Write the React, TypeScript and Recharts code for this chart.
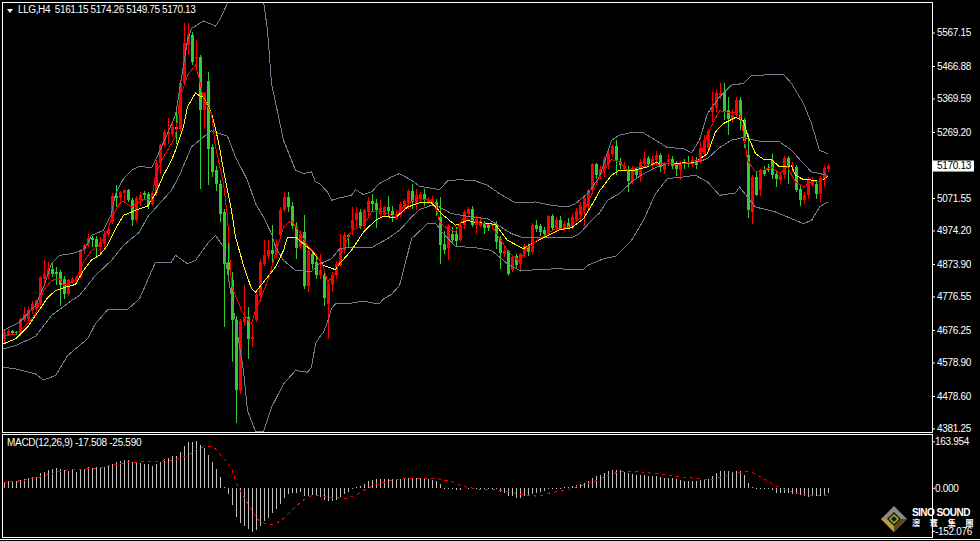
import { Bar, ComposedChart, Line, XAxis, YAxis } from "recharts"

// MT4 chart: LLG,H4 with Bollinger bands, two moving averages and MACD.
// One row per 4h bar.
const opens = [
  4651, 4664, 4676, 4672, 4666, 4706, 4711, 4736, 4741, 4758, 4831, 4841, 4861, 4851, 4851, 4831, 4784, 4821, 4824, 4836,
  4916, 4936, 4954, 4951, 4926, 4936, 4964, 5001, 5078, 5074, 5088, 5096, 5068, 5008, 5066, 5088, 5084, 5054, 5088, 5178,
  5231, 5266, 5266, 5286, 5281, 5416, 5531, 5561, 5494, 5496, 5336, 5423, 5226, 5156, 5116, 5031, 4881, 4826, 4706, 4496,
  4701, 4716, 4651, 4706, 4778, 4876, 4898, 4916, 4906, 4961, 5038, 5076, 5048, 4986, 4926, 4971, 4808, 4906, 4881, 4841,
  4841, 4756, 4811, 4841, 4871, 4916, 4961, 4981, 5006, 5031, 4988, 5031, 5063, 5058, 5026, 5021, 5046, 5034, 5011, 5021,
  5044, 5058, 5094, 5056, 5071, 5086, 5061, 5061, 5061, 5016, 4934, 4924, 4966, 4966, 4946, 4991, 5026, 5041, 4991, 4988,
  4994, 4991, 4988, 4996, 4951, 4906, 4913, 4858, 4898, 4874, 4904, 4928, 4911, 4991, 4988, 4976, 4966, 5018, 4981, 5006,
  4981, 4998, 4984, 5006, 5021, 5036, 5048, 5098, 5174, 5141, 5156, 5176, 5204, 5228, 5181, 5161, 5161, 5124, 5156, 5138,
  5176, 5194, 5174, 5186, 5201, 5158, 5181, 5191, 5176, 5158, 5181, 5181, 5176, 5186, 5181, 5206, 5224, 5331, 5341, 5381,
  5391, 5336, 5311, 5321, 5366, 5306, 5201, 5031, 5136, 5098, 5156, 5161, 5188, 5144, 5128, 5141, 5193, 5166, 5166, 5099,
  5068, 5081, 5111, 5114, 5086, 5126, 5161.15,
]
const highs = [
  4680, 4680, 4678, 4676, 4715, 4745, 4745, 4765, 4770, 4840, 4886, 4880, 4880, 4866, 4856, 4840, 4830, 4836, 4840, 4920,
  4935, 4964, 4960, 4960, 4955, 4975, 4990, 5088, 5111, 5095, 5098, 5100, 5072, 5080, 5090, 5095, 5090, 5092, 5186, 5236,
  5276, 5314, 5300, 5330, 5426, 5596, 5596, 5570, 5546, 5500, 5390, 5451, 5236, 5170, 5126, 5040, 4946, 4850, 4720, 4710,
  4811, 4746, 4696, 4790, 4891, 4946, 4946, 4991, 4950, 5046, 5091, 5091, 5060, 5000, 4975, 5021, 4925, 4915, 4900, 4905,
  4850, 4825, 4850, 4885, 4965, 4970, 4965, 5046, 5046, 5040, 5040, 5075, 5086, 5070, 5066, 5050, 5078, 5050, 5036, 5062,
  5070, 5100, 5116, 5100, 5090, 5100, 5075, 5080, 5070, 5075, 4975, 4995, 4985, 4985, 5000, 5036, 5045, 5050, 5020, 5012,
  5005, 4998, 4998, 5005, 4960, 4925, 4918, 4900, 4905, 4908, 4935, 4935, 4998, 5008, 4995, 4985, 5022, 5024, 5015, 5020,
  5005, 5012, 5025, 5042, 5060, 5080, 5100, 5178, 5178, 5170, 5200, 5215, 5232, 5248, 5192, 5180, 5170, 5170, 5165, 5190,
  5210, 5200, 5200, 5215, 5208, 5180, 5205, 5198, 5185, 5185, 5190, 5200, 5200, 5195, 5240, 5262, 5280, 5391, 5396, 5416,
  5416, 5376, 5340, 5376, 5375, 5312, 5266, 5142, 5150, 5160, 5170, 5175, 5204, 5155, 5150, 5198, 5198, 5180, 5172, 5110,
  5090, 5135, 5135, 5125, 5140, 5170, 5174.26,
]
const lows = [
  4640, 4660, 4664, 4664, 4660, 4700, 4705, 4725, 4735, 4750, 4815, 4830, 4835, 4811, 4750, 4770, 4780, 4815, 4815, 4830,
  4905, 4925, 4925, 4895, 4905, 4925, 4955, 4995, 5046, 5065, 5061, 5060, 4989, 5000, 5050, 5070, 5040, 5048, 5080, 5146,
  5225, 5236, 5255, 5236, 5270, 5410, 5500, 5471, 5461, 5101, 5280, 5111, 5136, 5095, 5000, 4686, 4830, 4581, 4398, 4486,
  4690, 4591, 4628, 4700, 4760, 4870, 4890, 4880, 4895, 4950, 5030, 5030, 4980, 4890, 4920, 4800, 4790, 4860, 4830, 4830,
  4750, 4652, 4790, 4830, 4865, 4905, 4925, 4961, 4985, 4980, 4980, 5020, 5030, 4982, 5016, 5016, 5020, 5000, 5006, 5015,
  5030, 5040, 5041, 5036, 5060, 5050, 5055, 5055, 5020, 4876, 4905, 4886, 4936, 4930, 4940, 4980, 5015, 4985, 4966, 4985,
  4965, 4975, 4980, 4920, 4860, 4895, 4839, 4850, 4860, 4852, 4895, 4900, 4905, 4970, 4960, 4955, 4960, 4975, 4975, 4978,
  4975, 4980, 4980, 5000, 5010, 4988, 5040, 5090, 5130, 5130, 5136, 5160, 5195, 5142, 5160, 5155, 5092, 5114, 5130, 5122,
  5166, 5165, 5160, 5170, 5150, 5145, 5170, 5160, 5140, 5126, 5160, 5165, 5165, 5160, 5175, 5195, 5215, 5301, 5330, 5370,
  5306, 5261, 5300, 5315, 5276, 5222, 5014, 4996, 5080, 5080, 5140, 5150, 5130, 5106, 5115, 5130, 5116, 5150, 5090, 5050,
  5055, 5070, 5105, 5070, 5061, 5105, 5149.75,
]
const closes = [
  4671, 4676, 4668, 4668, 4711, 4726, 4736, 4756, 4766, 4836, 4846, 4861, 4844, 4846, 4811, 4786, 4826, 4831, 4836, 4916,
  4931, 4954, 4948, 4926, 4941, 4966, 4981, 5078, 5074, 5090, 5096, 5066, 5006, 5074, 5081, 5081, 5051, 5088, 5178, 5231,
  5271, 5271, 5286, 5281, 5416, 5536, 5561, 5481, 5496, 5336, 5386, 5221, 5151, 5116, 5026, 4876, 4856, 4706, 4498, 4703,
  4716, 4651, 4658, 4781, 4881, 4901, 4916, 4904, 4936, 5038, 5076, 5046, 4988, 4924, 4966, 4808, 4918, 4876, 4841, 4858,
  4774, 4814, 4843, 4876, 4919, 4961, 4956, 5006, 5029, 4986, 5036, 5063, 5054, 5036, 5044, 5046, 5034, 5021, 5026, 5056,
  5064, 5094, 5061, 5081, 5084, 5068, 5068, 5071, 5041, 4931, 4918, 4988, 4946, 4944, 4991, 5031, 5041, 4991, 5011, 5004,
  4984, 4984, 4994, 4941, 4908, 4913, 4844, 4896, 4871, 4904, 4928, 4911, 4991, 4981, 4971, 4964, 5018, 4984, 5008, 4984,
  4996, 4984, 5016, 5033, 5051, 5073, 5096, 5174, 5141, 5161, 5191, 5206, 5228, 5188, 5171, 5171, 5124, 5164, 5141, 5181,
  5194, 5174, 5191, 5201, 5166, 5171, 5191, 5168, 5161, 5178, 5176, 5176, 5186, 5171, 5224, 5246, 5274, 5344, 5388, 5388,
  5331, 5311, 5321, 5366, 5306, 5243, 5036, 5136, 5083, 5156, 5146, 5156, 5141, 5131, 5141, 5193, 5166, 5171, 5096, 5066,
  5081, 5128, 5128, 5086, 5134, 5164, 5170.13,
]

// Indicator curves as [bar, price] readings
const bbUpper = [
  [0, 4676], [4, 4701], [8, 4751], [10, 4806], [12, 4876], [14, 4901], [17, 4906], [20, 4918], [21, 4936], [22, 4961],
  [25, 4976], [27, 5026], [28, 5086], [30, 5131], [32, 5156], [34, 5168], [37, 5163], [38, 5186], [41, 5266], [43, 5321],
  [45, 5470], [46, 5546], [47, 5581], [50, 5603], [53, 5588], [54, 5606], [56, 5656], [57, 5690], [60, 5780], [63, 5760],
  [65, 5661], [66, 5576], [67, 5416], [70, 5246], [73, 5156], [75, 5146], [77, 5151], [78, 5121], [79, 5116], [81, 5091],
  [82, 5066], [84, 5073], [87, 5081], [88, 5098], [90, 5083], [92, 5091], [94, 5116], [97, 5136], [99, 5146], [102, 5126],
  [104, 5108], [109, 5098], [111, 5124], [114, 5128], [118, 5124], [121, 5111], [124, 5086], [128, 5058], [133, 5061],
  [137, 5051], [141, 5046], [143, 5056], [146, 5086], [149, 5136], [152, 5246], [154, 5261], [157, 5269], [160, 5268],
  [163, 5246], [166, 5224], [170, 5221], [172, 5208], [174, 5246], [176, 5326], [179, 5376], [182, 5411], [185, 5416],
  [187, 5439], [191, 5442], [195, 5443], [197, 5416], [200, 5356], [202, 5296], [204, 5216], [206, 5206],
]
const bbMiddle = [
  [0, 4621], [3, 4631], [8, 4658], [12, 4721], [17, 4766], [19, 4781], [23, 4841], [27, 4886], [30, 4931], [34, 4971],
  [36, 5016], [42, 5096], [44, 5141], [47, 5226], [50, 5256], [52, 5274], [56, 5258], [58, 5196], [61, 5126], [63, 5056],
  [65, 5016], [67, 4966], [68, 4926], [70, 4886], [73, 4856], [77, 4853], [79, 4876], [82, 4891], [83, 4906], [84, 4921],
  [87, 4926], [92, 4924], [96, 4951], [99, 4976], [102, 5016], [104, 5038], [107, 5051], [109, 5046], [112, 5026],
  [117, 5016], [121, 5011], [123, 4996], [127, 4966], [130, 4954], [136, 4956], [142, 4954], [144, 4966], [147, 5006],
  [149, 5028], [151, 5066], [154, 5086], [157, 5121], [160, 5146], [163, 5164], [166, 5176], [173, 5178], [176, 5191],
  [179, 5224], [182, 5246], [185, 5254], [189, 5243], [194, 5241], [197, 5216], [200, 5176], [202, 5151], [206, 5141],
]
const bbLower = [
  [0, 4566], [3, 4561], [8, 4546], [10, 4528], [13, 4541], [16, 4601], [19, 4631], [21, 4651], [23, 4696], [26, 4738],
  [31, 4739], [34, 4771], [36, 4826], [38, 4881], [42, 4881], [43, 4901], [46, 4876], [48, 4886], [51, 4936], [53, 4961],
  [55, 4926], [57, 4776], [60, 4556], [61, 4436], [63, 4374], [65, 4374], [67, 4446], [70, 4516], [73, 4556], [76, 4551],
  [77, 4566], [78, 4636], [79, 4656], [80, 4671], [81, 4701], [82, 4741], [83, 4756], [85, 4756], [87, 4758], [90, 4764],
  [92, 4759], [94, 4756], [95, 4771], [97, 4784], [99, 4811], [100, 4856], [102, 4951], [106, 4996], [108, 4998],
  [110, 4966], [113, 4928], [118, 4924], [122, 4916], [126, 4876], [129, 4856], [134, 4858], [138, 4861], [145, 4858],
  [146, 4871], [150, 4891], [153, 4898], [157, 4946], [160, 5006], [163, 5086], [166, 5131], [170, 5136], [173, 5141],
  [176, 5121], [179, 5081], [183, 5088], [184, 5106], [186, 5076], [188, 5046], [193, 5031], [197, 5011], [200, 4996],
  [202, 5006], [204, 5046], [206, 5061],
]
const maSlow = [
  [0, 4636], [3, 4651], [6, 4686], [8, 4721], [11, 4774], [13, 4796], [15, 4804], [18, 4814], [20, 4856], [22, 4888],
  [24, 4901], [26, 4931], [28, 4981], [30, 5021], [31, 5026], [33, 5036], [36, 5048], [38, 5086], [40, 5141], [42, 5186],
  [43, 5216], [45, 5286], [46, 5346], [48, 5388], [49, 5379], [50, 5376], [52, 5326], [53, 5281], [54, 5226], [55, 5156],
  [57, 5036], [58, 4956], [60, 4871], [62, 4801], [63, 4791], [65, 4821], [68, 4866], [70, 4916], [71, 4956], [73, 4956],
  [75, 4936], [77, 4916], [79, 4886], [80, 4871], [83, 4858], [84, 4876], [87, 4916], [90, 4971], [93, 5006], [95, 5018],
  [98, 5014], [101, 5046], [104, 5058], [107, 5058], [110, 5021], [113, 4991], [116, 5006], [118, 5000], [123, 4994],
  [126, 4946], [130, 4921], [132, 4936], [135, 4954], [139, 4978], [142, 4984], [145, 5011], [148, 5071], [149, 5094],
  [152, 5141], [154, 5156], [157, 5154], [161, 5166], [163, 5178], [168, 5176], [173, 5181], [176, 5206], [178, 5271],
  [180, 5296], [183, 5314], [185, 5304], [186, 5261], [188, 5206], [190, 5189], [192, 5188], [194, 5166], [197, 5169],
  [198, 5141], [200, 5128], [203, 5126], [204, 5121], [206, 5138],
]
const maFast = [
  [0, 4661], [3, 4664], [6, 4696], [8, 4726], [10, 4796], [12, 4826], [14, 4831], [15, 4811], [18, 4826], [20, 4881],
  [22, 4916], [24, 4931], [26, 4976], [27, 5011], [29, 5056], [30, 5063], [32, 5046], [35, 5069], [37, 5066], [38, 5141],
  [40, 5196], [42, 5236], [43, 5256], [44, 5366], [46, 5441], [48, 5471], [49, 5426], [50, 5371], [52, 5326], [53, 5226],
  [55, 5116], [56, 5016], [57, 4811], [59, 4751], [60, 4726], [62, 4696], [63, 4736], [66, 4821], [68, 4906], [70, 4986],
  [72, 5006], [74, 4971], [76, 4931], [78, 4906], [80, 4866], [81, 4821], [83, 4846], [85, 4926], [87, 4976], [90, 4991],
  [92, 5031], [95, 5031], [98, 5016], [100, 5046], [103, 5071], [106, 5069], [108, 5056], [109, 5001], [111, 4981],
  [113, 4971], [115, 5016], [118, 5001], [122, 4991], [123, 4971], [126, 4916], [129, 4881], [131, 4926], [134, 4951],
  [138, 4981], [141, 4984], [144, 5011], [146, 5056], [149, 5136], [152, 5188], [154, 5181], [156, 5156], [159, 5166],
  [162, 5171], [165, 5176], [169, 5174], [174, 5186], [176, 5266], [179, 5334], [182, 5328], [184, 5331], [185, 5266],
  [186, 5186], [188, 5151], [190, 5156], [192, 5166], [194, 5146], [196, 5166], [198, 5121], [200, 5106], [202, 5121],
  [204, 5121], [206, 5141],
]

const macdHist = [
  21, 26, 26, 27, 30, 32, 35, 40, 41, 53, 59, 65, 67, 71, 67, 63, 61, 63, 59, 65,
  67, 76, 73, 74, 74, 76, 80, 85, 92, 97, 100, 100, 92, 89, 89, 86, 85, 80, 86, 92,
  104, 106, 113, 113, 127, 148, 163, 164, 168, 153, 142, 118, 94, 68, 40, 6, -20, -59, -100, -122,
  -133, -145, -153, -148, -133, -116, -106, -86, -74, -55, -35, -21, -17, -17, -14, -27, -27, -25, -28, -31,
  -41, -45, -45, -40, -32, -20, -12, -1, 5, 9, 15, 26, 30, 33, 33, 33, 32, 33, 33, 33,
  35, 35, 38, 38, 38, 38, 34, 30, 26, 15, 1, 1, 1, -5, -5, 0, 1, 2, -1, 1,
  -1, -1, -1, -2, -12, -15, -26, -29, -34, -33, -29, -26, -20, -15, -12, -8, -1, 1, 1, 1,
  5, 5, 8, 12, 15, 19, 26, 35, 44, 46, 54, 61, 65, 65, 65, 59, 55, 51, 47, 47,
  47, 44, 44, 44, 40, 38, 35, 35, 33, 30, 26, 26, 26, 26, 28, 30, 33, 44, 53, 61,
  61, 61, 59, 61, 61, 47, 19, 5, 1, -2, -2, -2, -5, -18, -17, -15, -18, -20, -21, -24,
  -27, -30, -28, -27, -27, -27, -17.5,
]
const macdSignal = [
  [0, 21], [3, 24], [8, 35], [12, 53], [16, 65], [20, 68], [24, 71], [28, 85], [32, 92], [37, 94], [41, 97], [44, 104],
  [47, 124], [49, 144], [52, 149], [53, 139], [55, 106], [57, 71], [58, 24], [60, -30], [62, -77], [64, -118], [66, -127],
  [68, -127], [70, -106], [73, -65], [75, -41], [77, -27], [80, -27], [82, -32], [86, -35], [88, -26], [90, -8], [92, 6],
  [95, 21], [98, 32], [102, 35], [108, 35], [112, 24], [115, 6], [119, -4], [123, -4], [126, -12], [131, -26], [134, -28],
  [136, -18], [140, -8], [143, 4], [147, 20], [150, 38], [154, 59], [158, 60], [164, 50], [169, 40], [173, 35], [177, 30],
  [181, 47], [185, 59], [187, 57], [190, 35], [193, 8], [197, -12], [201, -24], [206, -25.59],
]

const priceTicks = [5567.15, 5466.88, 5369.59, 5269.2, 5170.13, 5071.55, 4974.2, 4873.9, 4776.55, 4676.25, 4578.9, 4478.6, 4381.25]
const macdTicks = [163.954, 0, -152.076]
const lastPrice = 5170.13
const title = "LLG,H4  5161.15 5174.26 5149.75 5170.13"
const macdTitle = "MACD(12,26,9) -17.508 -25.590"

const TOTAL_SLOTS = 233 // chart is scrolled, empty room right of the last bar
const FONT = '"Liberation Sans", Arial, sans-serif'

const pick = (pairs: number[][], bar: number) => pairs.find((p) => p[0] === bar)?.[1]

const rows = Array.from({ length: TOTAL_SLOTS }, (_, bar) => ({
  bar,
  open: opens[bar],
  high: highs[bar],
  low: lows[bar],
  close: closes[bar],
  upper: pick(bbUpper, bar),
  middle: pick(bbMiddle, bar),
  lower: pick(bbLower, bar),
  slow: pick(maSlow, bar),
  fast: pick(maFast, bar),
  hist: macdHist[bar],
  signal: pick(macdSignal, bar),
}))

function Candle(props: any) {
  const { x, y, width, height, payload } = props
  if (payload.open === undefined || !height) return null
  const { open, high, low, close } = payload
  const perPrice = height / (high - low)
  const top = y + (high - Math.max(open, close)) * perPrice
  const bodyH = Math.max(Math.abs(close - open) * perPrice, 1)
  const color = close >= open ? "#ff0000" : "#32cd32"
  return (
    <g shapeRendering="crispEdges">
      <rect x={x + width / 2 - 0.5} y={y} width={1} height={height} fill={color} />
      <rect x={x} y={top} width={width} height={bodyH} fill={color} />
    </g>
  )
}

// 1px histogram stick, aligned to the pixel grid
function Stick({ x, y, width, height }: any) {
  if (!height) return null
  return (
    <rect
      x={Math.floor(x + width / 2)}
      y={Math.min(y, y + height)}
      width={1}
      height={Math.max(Math.abs(height), 1)}
      fill="#c0c0c0"
      shapeRendering="crispEdges"
    />
  )
}

function AxisTick({ y, payload, digits }: any) {
  const value = payload.value
  const isLast = value === lastPrice
  const label = value.toFixed(digits)
  return (
    <g>
      <line x1={932} x2={935} y1={y} y2={y} stroke="#fff" />
      {isLast && <rect x={933} y={y - 5} width={41} height={11} fill="#fff" />}
      <text
        x={digits === 3 ? 935 : 937}
        y={y + 3.5}
        fontSize={10}
        fontFamily={FONT}
        letterSpacing={-0.3}
        fill={isLast ? "#000" : "#fff"}
      >
        {label}
      </text>
    </g>
  )
}

function Panel({ top, height }: { top: number; height: number }) {
  return (
    <div
      style={{
        position: "absolute",
        left: 2,
        top,
        width: 929,
        height,
        border: "1px solid #fff",
        boxSizing: "content-box",
      }}
    />
  )
}

function Logo() {
  return (
    <div style={{ position: "absolute", left: 880, top: 505, width: 96, height: 30, fontFamily: FONT, color: "#fff" }}>
      <svg width={30} height={30} style={{ position: "absolute", left: 0, top: 0 }}>
        <polygon points="14,1 27,14 14,27 1,14" fill="#8a8a80" />
        <polygon points="14,27 1,14 7,14 14,21" fill="#b8a032" />
        <polygon points="14,27 27,14 21,14 14,21" fill="#5a4c14" />
        <polygon points="14,7 21,14 14,21 7,14" fill="#1a1a10" />
        <polygon points="14,10 18,14 14,18 10,14" fill="none" stroke="#9ab030" strokeWidth={1.5} />
      </svg>
      <div style={{ position: "absolute", left: 32, top: 2, fontSize: 10, fontWeight: 700, whiteSpace: "nowrap", letterSpacing: -0.55 }}>
        SINO SOUND
      </div>
      <div
        style={{
          position: "absolute",
          left: 32,
          top: 12,
          fontSize: 8,
          fontWeight: 700,
          whiteSpace: "nowrap",
          wordSpacing: 8,
          fontFamily: '"Noto Sans CJK TC"',
        }}
      >
        澳 寰 集 團
      </div>
    </div>
  )
}

export default function App() {
  const band = { stroke: "#708090", strokeWidth: 1, dot: false, connectNulls: true, isAnimationActive: false, shapeRendering: "crispEdges" }
  return (
    <div style={{ position: "absolute", left: 0, top: 0, width: 980, height: 541, background: "#000", overflow: "hidden" }}>
      <Panel top={2} height={429} />
      <Panel top={434} height={102} />
      <div style={{ position: "absolute", left: 0, top: 539, width: 980, height: 1, background: "#fff" }} />

      <div style={{ position: "absolute", left: 0, top: 0 }}>
        <ComposedChart
          width={980}
          height={433}
          data={rows}
          margin={{ top: 3, right: 0, bottom: 1, left: 1.5 }}
          barCategoryGap={0}
        >
          <XAxis dataKey="bar" hide />
          <YAxis
            orientation="right"
            width={46.5}
            domain={[4372, 5657]}
            allowDataOverflow
            ticks={priceTicks}
            interval={0}
            axisLine={false}
            tickLine={false}
            tick={<AxisTick digits={2} />}
          />
          <Bar
            dataKey={(r: any) => (r.open === undefined ? null : [r.low, r.high])}
            barSize={3}
            shape={<Candle />}
            isAnimationActive={false}
          />
          <Line dataKey="upper" {...band} />
          <Line dataKey="middle" {...band} />
          <Line dataKey="lower" {...band} />
          <Line dataKey="slow" stroke="#ffff00" strokeWidth={1} dot={false} connectNulls isAnimationActive={false} shapeRendering="crispEdges" />
          <Line dataKey="fast" stroke="#ff0000" strokeWidth={1} dot={false} connectNulls isAnimationActive={false} shapeRendering="crispEdges" />
        </ComposedChart>
      </div>

      <div style={{ position: "absolute", left: 0, top: 434 }}>
        <ComposedChart
          width={980}
          height={103}
          data={rows}
          margin={{ top: 1, right: 0, bottom: 0, left: 1.5 }}
          barCategoryGap={0}
        >
          <XAxis dataKey="bar" hide />
          <YAxis
            orientation="right"
            width={46.5}
            domain={[-172, 188]}
            allowDataOverflow
            ticks={macdTicks}
            interval={0}
            axisLine={false}
            tickLine={false}
            tick={<AxisTick digits={3} />}
          />
          <Bar dataKey="hist" barSize={1} shape={<Stick />} isAnimationActive={false} />
          <Line
            dataKey="signal"
            stroke="#ff0000"
            strokeWidth={1}
            strokeDasharray="3 4"
            dot={false}
            connectNulls
            isAnimationActive={false}
            shapeRendering="crispEdges"
          />
        </ComposedChart>
      </div>

      <div
        style={{
          position: "absolute",
          left: 7,
          top: 9,
          width: 0,
          height: 0,
          borderLeft: "3.5px solid transparent",
          borderRight: "3.5px solid transparent",
          borderTop: "4px solid #fff",
        }}
      />
      <div style={{ position: "absolute", left: 18, top: 4, fontFamily: FONT, fontSize: 10, letterSpacing: -0.4, color: "#fff", whiteSpace: "pre" }}>
        {title}
      </div>
      <div style={{ position: "absolute", left: 7, top: 437, fontFamily: FONT, fontSize: 10, letterSpacing: -0.3, color: "#fff", whiteSpace: "pre" }}>
        {macdTitle}
      </div>
      <Logo />
    </div>
  )
}
